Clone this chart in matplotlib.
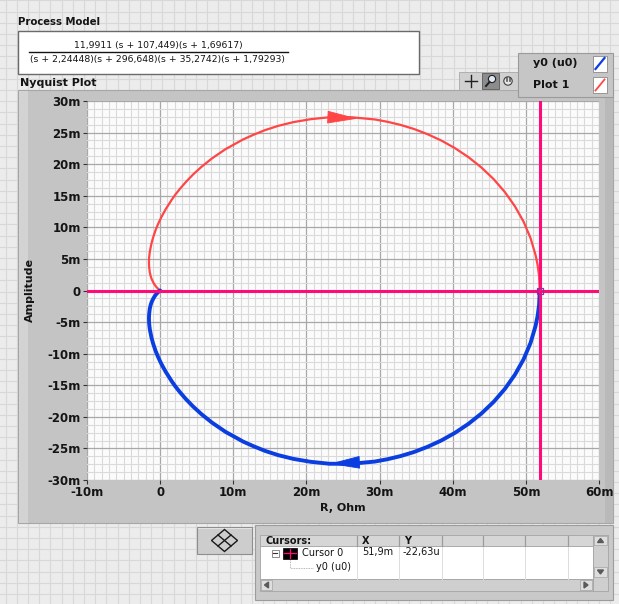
import matplotlib
matplotlib.use("Agg")
import matplotlib.pyplot as plt
from matplotlib.patches import Rectangle, Polygon, FancyArrowPatch, Circle
from matplotlib.ticker import MultipleLocator

# ---- data (milliohm) ------------------------------------------------------
# Nyquist locus of the process model, positive frequencies (y0 (u0))
re_pos = [51.90, 51.81, 51.62, 51.33, 50.64, 49.69, 48.51, 47.13, 45.59, 43.91,
          42.14, 40.30, 38.43, 36.55, 34.68, 32.85, 31.08, 29.35, 26.12, 23.17,
          20.58, 18.23, 16.16, 14.34, 12.76, 11.33, 10.12, 8.97, 7.13, 5.67,
          4.49, 3.54, 2.76, 2.11, 1.58, 0.75, 0.15, -0.29, -0.62, -0.96,
          -1.19, -1.41, -1.51, -1.53, -1.51, -1.42, -1.29, -1.16, -0.92, -0.74,
          -0.61, -0.47, -0.37, -0.24, -0.15, -0.08, 0.00]
im_pos = [0.00, -2.26, -3.95, -5.60, -8.30, -10.89, -13.32, -15.58, -17.64, -19.49,
          -21.12, -22.54, -23.75, -24.75, -25.58, -26.22, -26.71, -27.08, -27.43, -27.43,
          -27.12, -26.66, -26.07, -25.39, -24.65, -23.91, -23.13, -22.40, -20.95, -19.60,
          -18.35, -17.21, -16.17, -15.23, -14.36, -12.85, -11.58, -10.50, -9.57, -8.40,
          -7.43, -6.16, -5.19, -4.42, -3.80, -2.89, -2.26, -1.81, -1.24, -0.90,
          -0.69, -0.49, -0.38, -0.22, -0.12, -0.05, 0.00]
# negative-frequency branch (Plot 1)
re_neg = [0.00, -0.08, -0.15, -0.24, -0.37, -0.47, -0.61, -0.74, -0.92, -1.16,
          -1.29, -1.42, -1.51, -1.53, -1.51, -1.41, -1.19, -0.96, -0.62, -0.29,
          0.15, 0.75, 1.58, 2.11, 2.76, 3.54, 4.49, 5.67, 7.13, 8.97,
          10.12, 11.33, 12.76, 14.34, 16.16, 18.23, 20.58, 23.17, 26.12, 29.35,
          31.08, 32.85, 34.68, 36.55, 38.43, 40.30, 42.14, 43.91, 45.59, 47.13,
          48.51, 49.69, 50.64, 51.33, 51.62, 51.81, 51.90]
im_neg = [0.00, 0.05, 0.12, 0.22, 0.38, 0.49, 0.69, 0.90, 1.24, 1.81,
          2.26, 2.89, 3.80, 4.42, 5.19, 6.16, 7.43, 8.40, 9.57, 10.50,
          11.58, 12.85, 14.36, 15.23, 16.17, 17.21, 18.35, 19.60, 20.95, 22.40,
          23.13, 23.91, 24.65, 25.39, 26.07, 26.66, 27.12, 27.43, 27.43, 27.08,
          26.71, 26.22, 25.58, 24.75, 23.75, 22.54, 21.12, 19.49, 17.64, 15.58,
          13.32, 10.89, 8.30, 5.60, 3.95, 2.26, 0.00]

x_tick_vals = [-10, 0, 10, 20, 30, 40, 50, 60]
x_tick_labels = ["-10m", "0", "10m", "20m", "30m", "40m", "50m", "60m"]
y_tick_vals = [30, 25, 20, 15, 10, 5, 0, -5, -10, -15, -20, -25, -30]
y_tick_labels = ["30m", "25m", "20m", "15m", "10m", "5m", "0", "-5m", "-10m",
                 "-15m", "-20m", "-25m", "-30m"]

cursor_x = 51.9      # mOhm
cursor_y = -0.02263  # mOhm (-22,63u)
cursor_x_text = "51,9m"
cursor_y_text = "-22,63u"
legend_names = ["y0 (u0)", "Plot 1"]
numerator = "11,9911 (s + 107,449)(s + 1,69617)"
denominator = "(s + 2,24448)(s + 296,648)(s + 35,2742)(s + 1,79293)"

# ---- styling ---------------------------------------------------------------
W, H = 619, 604
BLUE = "#0a3ee0"
RED = "#ff4545"
MAGENTA = "#ff0a78"
FRAME = "#c4c4c4"
TXT = "#141414"
plt.rcParams["font.family"] = ["DejaVu Sans"]

fig = plt.figure(figsize=(W / 100, H / 100), dpi=100)
fig.patch.set_facecolor("#ececec")

# panel layer in pixel coordinates
bg = fig.add_axes([0, 0, 1, 1], zorder=0)
bg.set_xlim(0, W)
bg.set_ylim(H, 0)
bg.axis("off")

# panel grid pattern
k = 0
while 5.5 + 11.2 * k < W:
    bg.plot([5.5 + 11.2 * k] * 2, [0, H], color="#d8d8d8", lw=0.8, zorder=0)
    k += 1
k = 0
while 0.4 + 11.2 * k < H:
    bg.plot([0, W], [0.4 + 11.2 * k] * 2, color="#d8d8d8", lw=0.8, zorder=0)
    k += 1


def rect(x0, y0, x1, y1, fc, ec="none", lw=0.8, z=1):
    bg.add_patch(Rectangle((x0, y0), x1 - x0, y1 - y0, facecolor=fc,
                           edgecolor=ec, lw=lw, zorder=z))


# process model box
bg.text(18, 22, "Process Model", fontsize=7.3, fontweight="bold", color=TXT,
        ha="left", va="center", zorder=3)
rect(18, 31, 419, 74, "white", "#6a6a6a", 1.0, 2)
bg.text(158, 45.5, numerator, fontsize=6.7, color=TXT, ha="center", va="center", zorder=3)
bg.plot([29, 288], [52, 52], color=TXT, lw=1.0, zorder=3)
bg.text(157, 59.5, denominator, fontsize=6.7, color=TXT, ha="center", va="center", zorder=3)

# graph frame
bg.text(20, 83, "Nyquist Plot", fontsize=8, fontweight="bold", color=TXT,
        ha="left", va="center", zorder=3)
rect(18, 90, 613, 523, FRAME, "#a6a6a6", 0.8, 1)
rect(18.5, 90.5, 28, 522.5, "#d3d3d3", z=1.1)
rect(605, 90.5, 612.5, 522.5, "#b9b9b9", z=1.1)

# toolbar palette
rect(459, 72, 518, 90, "#d0d0d0", "#a8a8a8", 0.6, 2)
bg.plot([465, 477], [81, 81], color="#222222", lw=1.0, zorder=3)
bg.plot([471, 471], [75, 87], color="#222222", lw=1.0, zorder=3)
rect(482, 73, 499, 89, "#8c8c8c", "#5a5a5a", 0.6, 3)
bg.add_patch(Circle((492, 79), 3.6, facecolor="#dfe8f5", edgecolor="#202020", lw=0.8, zorder=4))
bg.plot([486, 489.5], [86, 82], color="#202020", lw=1.4, zorder=4)
bg.add_patch(Circle((508, 81), 4.2, facecolor="#e6e6e6", edgecolor="#404040", lw=0.8, zorder=3))
for dx in (-2.4, -0.8, 0.8, 2.4):
    bg.plot([508 + dx, 508 + dx], [77, 81], color="#404040", lw=0.5, zorder=4)

# ---- Nyquist plot ------------------------------------------------------------
ax = fig.add_axes([87 / W, 1 - 480 / H, (599 - 87) / W, (480 - 101) / H], zorder=2)
ax.set_facecolor("#fbfbfb")
ax.set_xlim(-10, 60)
ax.set_ylim(-30, 30)
ax.xaxis.set_minor_locator(MultipleLocator(1))
ax.yaxis.set_minor_locator(MultipleLocator(1.25))
ax.set_xticks(x_tick_vals, labels=x_tick_labels, fontweight="bold")
ax.set_yticks(y_tick_vals, labels=y_tick_labels, fontweight="bold")
ax.grid(which="minor", color="#dadada", lw=0.8)
ax.grid(which="major", color="#a8a8a8", lw=0.9)
ax.set_axisbelow(True)
ax.tick_params(which="major", direction="out", length=3, width=0.8, color="#333333",
               labelsize=8.5, labelcolor=TXT, pad=1.5)
ax.tick_params(which="minor", length=0)
for s in ax.spines.values():
    s.set_visible(False)

line_neg, = ax.plot(re_neg, im_neg, color=RED, lw=1.6, solid_capstyle="round",
                    solid_joinstyle="round", zorder=3)
line_pos, = ax.plot(re_pos, im_pos, color=BLUE, lw=2.8, solid_capstyle="round",
                    solid_joinstyle="round", zorder=4)


def direction_arrow(xs, ys, i_from, i_to, frac, color):
    # filled arrow head riding on the curve between two samples
    x0, y0 = xs[i_from], ys[i_from]
    x1 = x0 + frac * (xs[i_to] - x0)
    y1 = y0 + frac * (ys[i_to] - y0)
    ax.add_patch(FancyArrowPatch((x0, y0), (x1, y1),
                                 arrowstyle="-|>,head_length=20,head_width=4.2",
                                 mutation_scale=1, shrinkA=0, shrinkB=0,
                                 color=color, lw=0.6, zorder=5))


i25 = re_pos.index(23.17)
direction_arrow(re_pos, im_pos, i25 - 2, i25, 1.0, BLUE)
j25 = re_neg.index(23.17)
direction_arrow(re_neg, im_neg, j25, j25 + 2, 0.62, RED)

ax.axvline(cursor_x, color=MAGENTA, lw=2.2, zorder=6)
ax.axhline(cursor_y, color=MAGENTA, lw=2.2, zorder=6)
ax.plot([cursor_x], [cursor_y], marker="s", ms=4, mfc="none", mec="#9a2a9a",
        mew=0.9, zorder=7)

bg.text(30, 290.5, "Amplitude", rotation=90, fontsize=8, fontweight="bold", color=TXT,
        ha="center", va="center", zorder=3)
bg.text(343, 508, "R, Ohm", fontsize=8, fontweight="bold", color=TXT,
        ha="center", va="center", zorder=3)

# plot legend
rect(518, 53, 613, 97, "#c6c6c6", "#9a9a9a", 0.8, 2)
for (name, line, yc) in zip(legend_names, (line_pos, line_neg), (63.5, 85)):
    bg.text(533, yc, name, fontsize=8, fontweight="bold", color=TXT,
            ha="left", va="center", zorder=3)
    rect(593, yc - 8, 607, yc + 8, "white", "#8a8a8a", 0.6, 3)
    bg.plot([595.5, 604.5], [yc + 5.5, yc - 5.5], color=line.get_color(),
            lw=1.3 if line is line_neg else 1.6, zorder=4)

# ---- cursor movement button ------------------------------------------------
rect(197, 527, 252, 554, "#cdcdcd", "#8e8e8e", 0.8, 2)
rect(197.5, 527.5, 251.5, 529, "#e2e2e2", z=2.1)
cx, cy, hw, hh = 224.5, 540.5, 13, 11
bg.add_patch(Polygon([[cx - hw, cy], [cx, cy - hh], [cx + hw, cy], [cx, cy + hh]],
                     closed=True, facecolor="none", edgecolor="#1a1a1a", lw=1.0, zorder=3))
bg.plot([cx - hw / 2, cx + hw / 2], [cy - hh / 2, cy + hh / 2], color="#1a1a1a", lw=1.0, zorder=3)
bg.plot([cx - hw / 2, cx + hw / 2], [cy + hh / 2, cy - hh / 2], color="#1a1a1a", lw=1.0, zorder=3)

# ---- cursor legend table -----------------------------------------------------
rect(255, 525, 613, 600, "#c9c9c9", "#9c9c9c", 0.8, 2)
rect(260, 535, 593, 546, "#d6d6d6", "#a4a4a4", 0.6, 3)
rect(260, 546, 593, 579, "white", "#a4a4a4", 0.6, 3)
col_x = [357, 399, 442, 483, 525, 568]
for xc in col_x:
    bg.plot([xc, xc], [535.5, 545.5], color="#9c9c9c", lw=0.9, zorder=4)
    bg.plot([xc, xc], [546.5, 578.5], color="#dddddd", lw=0.7, zorder=4)
bg.text(266, 541, "Cursors:", fontsize=7, fontweight="bold", color=TXT,
        ha="left", va="center", zorder=5)
bg.text(362, 541, "X", fontsize=7, fontweight="bold", color=TXT, ha="left", va="center", zorder=5)
bg.text(404, 541, "Y", fontsize=7, fontweight="bold", color=TXT, ha="left", va="center", zorder=5)
# tree row
rect(271.5, 549.5, 278.5, 556.5, "white", "#7a7a7a", 0.6, 5)
bg.plot([273, 277], [553, 553], color="#333333", lw=0.8, zorder=6)
rect(283, 547.5, 297, 559, "#000000", "#000000", 0.5, 5)
bg.plot([284, 296], [553.2, 553.2], color=MAGENTA, lw=0.9, zorder=6)
bg.plot([290, 290], [548.5, 558], color=MAGENTA, lw=0.9, zorder=6)
bg.text(302, 553, "Cursor 0", fontsize=7, color=TXT, ha="left", va="center", zorder=5)
bg.text(362, 552.5, cursor_x_text, fontsize=7, color=TXT, ha="left", va="center", zorder=5)
bg.text(403, 552.5, cursor_y_text, fontsize=7, color=TXT, ha="left", va="center", zorder=5)
bg.plot([290, 290, 313], [559.5, 567.5, 567.5], color="#a0a0a0", lw=0.6, ls=(0, (1, 1)), zorder=5)
bg.text(316, 567, legend_names[0], fontsize=7, color=TXT, ha="left", va="center", zorder=5)
# scroll bars
rect(593, 535, 608, 591, "#cfcfcf", "#a4a4a4", 0.6, 3)
rect(594, 536, 607, 545, "#dedede", "#a4a4a4", 0.5, 4)
rect(594, 567, 607, 577, "#dedede", "#a4a4a4", 0.5, 4)
bg.add_patch(Polygon([[597.5, 542.5], [603.5, 542.5], [600.5, 538.5]], closed=True,
                     color="#5a5a5a", zorder=5))
bg.add_patch(Polygon([[597.5, 570], [603.5, 570], [600.5, 574]], closed=True,
                     color="#5a5a5a", zorder=5))
rect(260, 579, 593, 591, "#cfcfcf", "#a4a4a4", 0.6, 3)
rect(261, 580, 272, 590, "#dedede", "#a4a4a4", 0.5, 4)
rect(580, 580, 592, 590, "#dedede", "#a4a4a4", 0.5, 4)
bg.add_patch(Polygon([[268.5, 582], [268.5, 588], [264.5, 585]], closed=True,
                     color="#5a5a5a", zorder=5))
bg.add_patch(Polygon([[584, 582], [584, 588], [588, 585]], closed=True,
                     color="#5a5a5a", zorder=5))

fig.savefig("out.png", dpi=100, facecolor=fig.get_facecolor())
